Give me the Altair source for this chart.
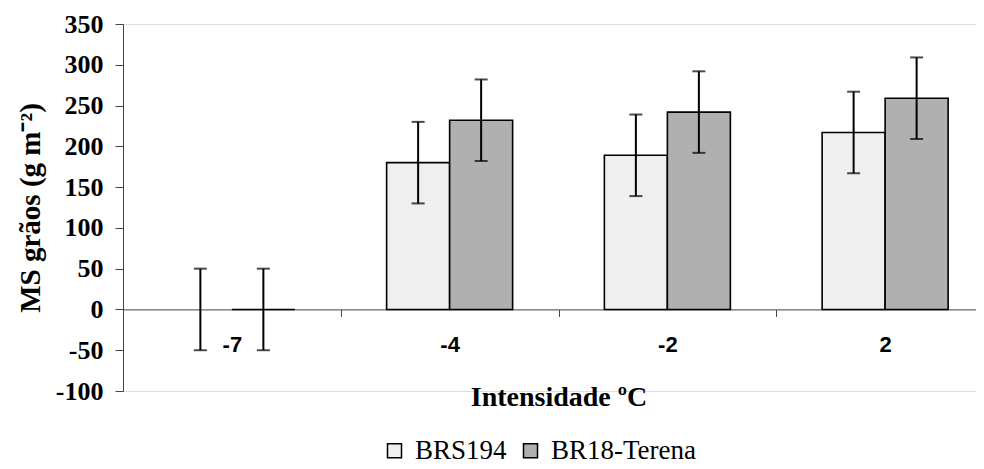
import altair as alt
import pandas as pd

# ---- data ----
categories = ["-7", "-4", "-2", "2"]
cultivars = ["BRS194", "BR18-Terena"]
brs194 = [0, 180, 189, 217]
br18 = [0, 232, 242, 259]
brs194_err = [50, 50, 50, 50]
br18_err = [50, 50, 50, 50]
y_ticks = [-100, -50, 0, 50, 100, 150, 200, 250, 300, 350]
fill_colors = ["#efefef", "#b0b0b0"]

rows = []
for i, c in enumerate(categories):
    rows.append({"cat": c, "cultivar": cultivars[0], "value": brs194[i], "err": brs194_err[i]})
    rows.append({"cat": c, "cultivar": cultivars[1], "value": br18[i], "err": br18_err[i]})
df = pd.DataFrame(rows)

PLOT_W, PLOT_H = 853, 367
TOTAL_H = 461

x_enc = alt.X(
    "cat:N",
    sort=categories,
    scale=alt.Scale(domain=categories, range=[0, 871], paddingInner=0, paddingOuter=0),
    axis=alt.Axis(
        title="Intensidade ºC",
        tickBand="extent",
        offset=-81.6,
        labelAngle=0,
        labelFont="Liberation Sans",
        labelFontWeight="bold",
        labelFontSize=22,
        labelColor="black",
        labelPadding=18,
        tickSize=7,
        tickColor="#444",
        domainColor="#444",
        titleFont="Liberation Serif",
        titleFontWeight="bold",
        titleFontSize=28,
        titleColor="black",
        titlePadding=28,
    ),
)

y_scale = alt.Scale(domain=[-100, 350], nice=False, zero=False)
y_axis = alt.Axis(
    title="MS grãos (g m⁻²)",
    values=y_ticks,
    grid=False,
    labelExpr="replace(datum.label, '\u2212', '-')",
    labelFont="Liberation Serif",
    labelFontWeight="bold",
    labelFontSize=26,
    labelColor="black",
    labelPadding=12,
    tickSize=8,
    tickColor="#444",
    domainColor="#444",
    titleFont="Liberation Serif",
    titleFontWeight="bold",
    titleFontSize=29,
    titleColor="black",
    titlePadding=10,
)

xoff = alt.XOffset(
    "cultivar:N",
    sort=cultivars,
    scale=alt.Scale(domain=cultivars, paddingOuter=0.728, paddingInner=0),
)

base = alt.Chart(df)

bars = base.transform_filter(
    "!(datum.cultivar == 'BRS194' && datum.value == 0)"
).mark_bar(stroke="black", strokeWidth=1.6).encode(
    x=x_enc,
    xOffset=xoff,
    y=alt.Y("value:Q", scale=y_scale, axis=y_axis),
    fill=alt.Fill(
        "cultivar:N",
        sort=cultivars,
        scale=alt.Scale(domain=cultivars, range=fill_colors),
        legend=alt.Legend(
            orient="none",
            legendX=258,
            legendY=413,
            direction="horizontal",
            title=None,
            symbolType="square",
            symbolSize=196,
            symbolStrokeColor="black",
            symbolStrokeWidth=1.5,
            labelFont="Liberation Serif",
            labelFontSize=27,
            labelColor="black",
            labelOffset=7,
            columnPadding=10,
            padding=0,
        ),
    ),
)

err = base.transform_calculate(
    lo="datum.value - datum.err", hi="datum.value + datum.err"
)

rules = err.mark_rule(color="black", strokeWidth=2).encode(
    x=alt.X("cat:N", sort=categories),
    xOffset=xoff,
    y=alt.Y("lo:Q", scale=y_scale),
    y2="hi:Q",
)

cap_lo = err.mark_tick(color="black", thickness=2, size=13).encode(
    x=alt.X("cat:N", sort=categories),
    xOffset=xoff,
    y=alt.Y("lo:Q", scale=y_scale),
)
cap_hi = err.mark_tick(color="black", thickness=2, size=13).encode(
    x=alt.X("cat:N", sort=categories),
    xOffset=xoff,
    y=alt.Y("hi:Q", scale=y_scale),
)

chart = (
    alt.layer(bars, rules, cap_lo, cap_hi)
    .properties(
        width=PLOT_W,
        height=PLOT_H,
        autosize=alt.AutoSizeParams(type="none"),
        padding={"left": 115, "top": 16, "right": 0, "bottom": TOTAL_H - 16 - PLOT_H},
    )
    .configure_view(stroke=None)
    .configure(background="white")
)

chart.save("out.html", embed_options={"renderer": "svg", "actions": False})
